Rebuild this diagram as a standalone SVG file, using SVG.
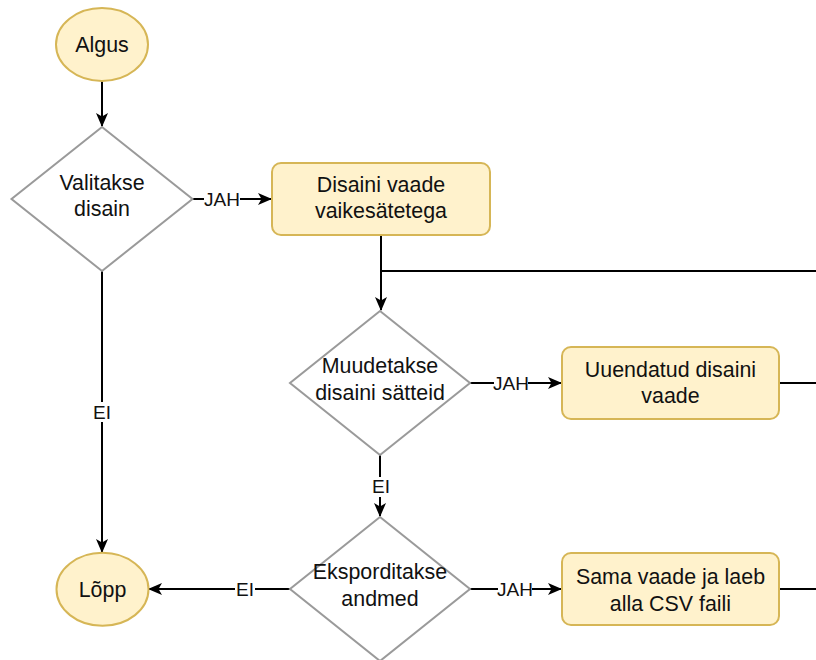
<svg xmlns="http://www.w3.org/2000/svg" width="816" height="660" viewBox="0 0 816 660">
<defs>
<style>
.term{fill:#fff2cc;stroke:#d6b656;stroke-width:2}
.proc{fill:#fff2cc;stroke:#d6b656;stroke-width:2}
.dec{fill:#ffffff;stroke:#9a9a9a;stroke-width:2}
.t{font-family:"Liberation Sans",Arial,Helvetica,sans-serif;font-size:21.4px;fill:#111111;text-anchor:middle}
.lbl{font-family:"Liberation Sans",Arial,Helvetica,sans-serif;font-size:19px;fill:#111111;text-anchor:middle}
.c{fill:none;stroke:#000;stroke-width:2}
.arr{marker-end:url(#ah)}
.lb{fill:#ffffff}
</style>
<marker id="ah" viewBox="0 0 14 12" refX="13" refY="6" markerWidth="14" markerHeight="12" markerUnits="userSpaceOnUse" orient="auto">
<path d="M0,0 L14,6 L0,12 L3.5,6 Z" fill="#000"/>
</marker>
</defs>
<rect width="816" height="660" fill="#ffffff"/>
<g id="connectors">
<line class="c arr" x1="102" y1="81" x2="102" y2="126"/>
<line class="c arr" x1="193" y1="199" x2="271" y2="199"/>
<line class="c arr" x1="102" y1="271" x2="102" y2="552"/>
<line class="c arr" x1="381" y1="235" x2="381" y2="310"/>
<line class="c" x1="381" y1="271" x2="816" y2="271"/>
<line class="c arr" x1="470" y1="383" x2="561" y2="383"/>
<line class="c" x1="779" y1="383" x2="816" y2="383"/>
<line class="c arr" x1="380" y1="455" x2="380" y2="516"/>
<line class="c arr" x1="290" y1="589" x2="149" y2="589"/>
<line class="c arr" x1="470" y1="589" x2="561" y2="589"/>
<line class="c" x1="779" y1="589" x2="816" y2="589"/>
<rect class="lb" x="204" y="189" width="36" height="20"/>
<text class="lbl" x="222" y="206">JAH</text>
<rect class="lb" x="92" y="402" width="20" height="20"/>
<text class="lbl" x="102" y="419">EI</text>
<rect class="lb" x="494" y="373" width="34" height="20"/>
<text class="lbl" x="511" y="390">JAH</text>
<rect class="lb" x="371" y="477" width="20" height="20"/>
<text class="lbl" x="381" y="493">EI</text>
<rect class="lb" x="235" y="579" width="20" height="20"/>
<text class="lbl" x="245" y="596">EI</text>
<rect class="lb" x="498" y="579" width="34" height="20"/>
<text class="lbl" x="515" y="596">JAH</text>
</g>
<g id="algus">
<ellipse class="term" cx="102" cy="44.5" rx="46" ry="36.5"/>
<text class="t" x="102" y="52">Algus</text>
</g>
<g id="valitakse">
<polygon class="dec" points="102,127 192.5,199 102,271 11.5,199"/>
<text class="t" x="102" y="189.5">Valitakse</text>
<text class="t" x="102" y="215.5">disain</text>
</g>
<g id="disaini-vaade">
<rect class="proc" x="272" y="163" width="218" height="72" rx="9"/>
<text class="t" x="381" y="192">Disaini vaade</text>
<text class="t" x="381" y="218">vaikesätetega</text>
</g>
<g id="muudetakse">
<polygon class="dec" points="380,311 470,383 380,455 290,383"/>
<text class="t" x="380" y="373">Muudetakse</text>
<text class="t" x="380" y="400">disaini sätteid</text>
</g>
<g id="uuendatud">
<rect class="proc" x="562" y="347" width="217" height="72" rx="9"/>
<text class="t" x="670.5" y="377">Uuendatud disaini</text>
<text class="t" x="670.5" y="403">vaade</text>
</g>
<g id="eksporditakse">
<polygon class="dec" points="380,517 470,589 380,661 290,589"/>
<text class="t" x="380" y="578.5">Eksporditakse</text>
<text class="t" x="380" y="605.5">andmed</text>
</g>
<g id="sama-vaade">
<rect class="proc" x="562" y="553" width="217" height="72" rx="9"/>
<text class="t" x="670.5" y="583.5">Sama vaade ja laeb</text>
<text class="t" x="670.5" y="610.5">alla CSV faili</text>
</g>
<g id="lopp">
<ellipse class="term" cx="102.5" cy="589.3" rx="46" ry="36.5"/>
<text class="t" x="102.5" y="596.5">Lõpp</text>
</g>
</svg>
